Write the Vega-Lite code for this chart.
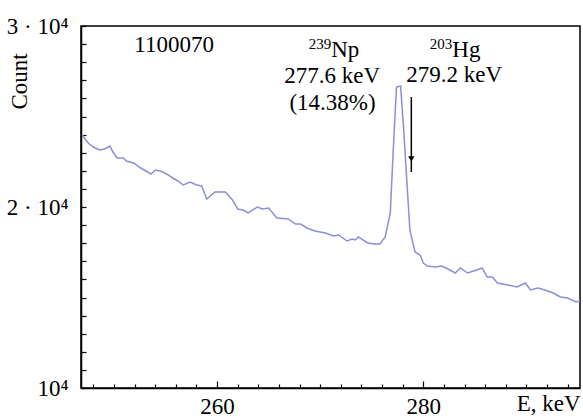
{
  "$schema": "https://vega.github.io/schema/vega-lite/v6.json",
  "width": 499,
  "height": 362,
  "autosize": {"type": "none"},
  "padding": {"left": 81, "top": 26, "right": 3, "bottom": 32},
  "background": "white",
  "config": {
    "font": "Liberation Serif",
    "view": {"stroke": "black", "strokeWidth": 1.5},
    "axis": {"grid": false, "domainColor": "black", "domainWidth": 1.5, "tickColor": "black", "tickWidth": 1.2, "labelColor": "black", "titleColor": "black", "labelFont": "Liberation Serif", "titleFont": "Liberation Serif", "labelFontSize": 23, "titleFontSize": 23, "titleFontWeight": "normal", "labelOverlap": false, "labelBound": false, "labelFlush": false, "tickCount": 100}
  },
  "datasets": {
    "spec": [
      {"E": 246.9, "count": 23978}, {"E": 247.5, "count": 23536}, {"E": 248.0, "count": 23315}, {"E": 248.6, "count": 23150},
      {"E": 249.1, "count": 23205}, {"E": 249.6, "count": 23371}, {"E": 249.9, "count": 23039}, {"E": 250.3, "count": 22708},
      {"E": 250.9, "count": 22708}, {"E": 251.2, "count": 22542}, {"E": 251.9, "count": 22431}, {"E": 252.6, "count": 22155},
      {"E": 253.6, "count": 21824}, {"E": 254.0, "count": 22045}, {"E": 254.5, "count": 21989}, {"E": 255.1, "count": 21824},
      {"E": 255.7, "count": 21603}, {"E": 256.2, "count": 21437}, {"E": 256.7, "count": 21216}, {"E": 257.4, "count": 21382},
      {"E": 258.0, "count": 21216}, {"E": 258.5, "count": 21161}, {"E": 259.0, "count": 20442}, {"E": 259.8, "count": 20829},
      {"E": 260.8, "count": 20829}, {"E": 261.5, "count": 20387}, {"E": 262.0, "count": 19890}, {"E": 262.5, "count": 19835},
      {"E": 263.0, "count": 19669}, {"E": 263.9, "count": 20000}, {"E": 264.4, "count": 19890}, {"E": 265.0, "count": 19945},
      {"E": 265.8, "count": 19393}, {"E": 266.9, "count": 19337}, {"E": 267.6, "count": 19061}, {"E": 268.1, "count": 19061},
      {"E": 268.7, "count": 18840}, {"E": 269.5, "count": 18674}, {"E": 270.5, "count": 18564}, {"E": 271.3, "count": 18398},
      {"E": 271.8, "count": 18453}, {"E": 272.6, "count": 18122}, {"E": 273.1, "count": 18232}, {"E": 273.4, "count": 18177},
      {"E": 273.7, "count": 18343}, {"E": 274.6, "count": 18011}, {"E": 275.3, "count": 17956}, {"E": 275.8, "count": 17956},
      {"E": 276.3, "count": 18343}, {"E": 276.8, "count": 19669}, {"E": 277.1, "count": 23315}, {"E": 277.4, "count": 26630},
      {"E": 277.8, "count": 26686}, {"E": 278.1, "count": 24255}, {"E": 278.5, "count": 20553}, {"E": 278.7, "count": 18730},
      {"E": 279.2, "count": 17514}, {"E": 279.7, "count": 17348}, {"E": 280.0, "count": 16906}, {"E": 280.4, "count": 16741},
      {"E": 281.2, "count": 16685}, {"E": 281.8, "count": 16741}, {"E": 282.4, "count": 16575}, {"E": 283.1, "count": 16354},
      {"E": 283.6, "count": 16630}, {"E": 284.3, "count": 16354}, {"E": 284.9, "count": 16464}, {"E": 285.7, "count": 16630},
      {"E": 286.2, "count": 16133}, {"E": 286.7, "count": 16133}, {"E": 287.2, "count": 15801}, {"E": 288.2, "count": 15691},
      {"E": 289.1, "count": 15580}, {"E": 289.9, "count": 15801}, {"E": 290.4, "count": 15415}, {"E": 291.1, "count": 15525},
      {"E": 291.8, "count": 15415}, {"E": 292.6, "count": 15249}, {"E": 293.3, "count": 15028}, {"E": 294.0, "count": 14973},
      {"E": 294.8, "count": 14752}, {"E": 295.2, "count": 14807}
    ],
    "centerText": [
      {"E": 255.83, "count": 28564, "text": "1100070"},
      {"E": 271.17, "count": 26851, "text": "277.6 keV"},
      {"E": 271.2, "count": 25360, "text": "(14.38%)"},
      {"E": 283.0, "count": 26906, "text": "279.2 keV"}
    ],
    "leftText": [
      {"E": 271.07, "count": 28288, "text": "Np"},
      {"E": 282.82, "count": 28288, "text": "Hg"}
    ],
    "sup": [
      {"E": 271.07, "count": 28730, "text": "239"},
      {"E": 282.82, "count": 28730, "text": "203"}
    ],
    "arrow": [
      {"E": 278.84, "top": 26078, "bottom": 21934, "head": 22652}
    ]
  },
  "layer": [
    {
      "data": {"name": "spec"},
      "mark": {"type": "line", "color": "#8a8fdc", "strokeWidth": 1.5},
      "encoding": {
        "x": {"field": "E", "type": "quantitative", "scale": {"domain": [246.8, 295.2], "nice": false, "zero": false},
          "axis": {"values": [248,250,252,254,256,258,260,262,264,266,268,270,272,274,276,278,280,282,284,286,288,290,292,294],
            "format": "d",
            "labelExpr": "datum.value % 20 === 0 ? datum.label : ''",
            "tickSize": {"condition": {"test": "datum.value % 20 === 0", "value": -7}, "value": -4},
            "labelPadding": 14,
            "title": "E, keV", "titleX": 499, "titleY": 22, "titleAlign": "right", "titleBaseline": "alphabetic"}},
        "y": {"field": "count", "type": "quantitative", "scale": {"domain": [10000, 30000], "nice": false, "zero": false},
          "axis": {"values": [10000,11000,12000,13000,14000,15000,16000,17000,18000,19000,20000,21000,22000,23000,24000,25000,26000,27000,28000,29000,30000],
            "labelExpr": "datum.value === 10000 ? '10⁴' : (datum.value === 20000 ? '2 · 10⁴' : (datum.value === 30000 ? '3 · 10⁴' : ''))",
            "tickSize": -5, "labelPadding": 18,
            "title": "Count", "titleX": -62, "titleY": 55, "titleAlign": "center", "titleBaseline": "middle", "titleAngle": -90}}
      }
    },
    {
      "data": {"name": "centerText"},
      "mark": {"type": "text", "fontSize": 23, "font": "Liberation Serif", "baseline": "alphabetic", "align": "center", "color": "black"},
      "encoding": {
        "x": {"field": "E", "type": "quantitative"},
        "y": {"field": "count", "type": "quantitative"},
        "text": {"field": "text"}
      }
    },
    {
      "data": {"name": "leftText"},
      "mark": {"type": "text", "fontSize": 23, "font": "Liberation Serif", "baseline": "alphabetic", "align": "left", "color": "black"},
      "encoding": {
        "x": {"field": "E", "type": "quantitative"},
        "y": {"field": "count", "type": "quantitative"},
        "text": {"field": "text"}
      }
    },
    {
      "data": {"name": "sup"},
      "mark": {"type": "text", "fontSize": 15, "font": "Liberation Serif", "baseline": "alphabetic", "align": "right", "color": "black"},
      "encoding": {
        "x": {"field": "E", "type": "quantitative"},
        "y": {"field": "count", "type": "quantitative"},
        "text": {"field": "text"}
      }
    },
    {
      "data": {"name": "arrow"},
      "mark": {"type": "rule", "color": "black", "strokeWidth": 1.5},
      "encoding": {
        "x": {"field": "E", "type": "quantitative"},
        "y": {"field": "top", "type": "quantitative"},
        "y2": {"field": "bottom"}
      }
    },
    {
      "data": {"name": "arrow"},
      "mark": {"type": "point", "shape": "triangle-down", "filled": true, "color": "black", "size": 40, "opacity": 1},
      "encoding": {
        "x": {"field": "E", "type": "quantitative"},
        "y": {"field": "head", "type": "quantitative"}
      }
    }
  ]
}
